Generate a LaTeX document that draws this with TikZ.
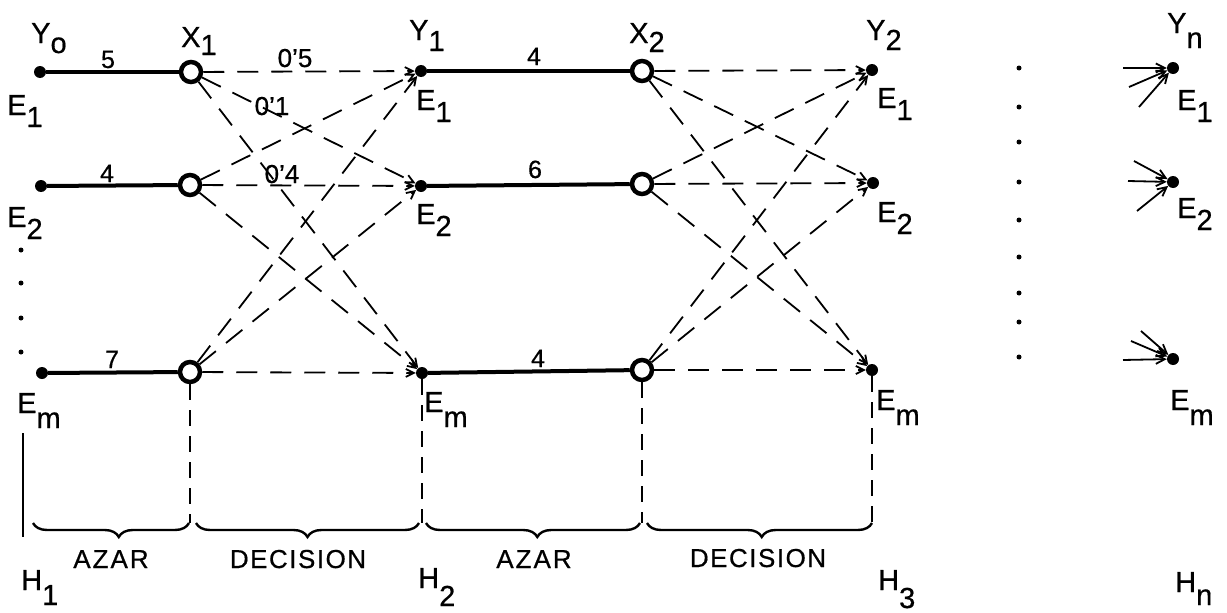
\documentclass[tikz,border=0pt]{standalone}
\usepackage{fontspec}
\setmainfont{Liberation Sans}[FakeBold=0.6]
\usetikzlibrary{arrows.meta,decorations.pathreplacing}
\newcommand{\subl}[3][-11pt]{#2\raisebox{#1}{#3}}
\begin{document}
\begin{tikzpicture}[x=1pt,y=-1pt,
  font=\fontsize{29}{31}\selectfont,
  dot/.style={circle,fill,inner sep=0pt,minimum size=12pt},
  ring/.style={circle,draw,line width=4.5pt,inner sep=0pt,minimum size=20pt},
  solidedge/.style={line width=4pt},
  dashedge/.style={line width=1.8pt,dash pattern=on 21pt off 13pt,-{Straight Barb[length=8pt,width=8pt]}},
  guide/.style={line width=1.8pt,dash pattern=on 16pt off 10pt},
  lbl/.style={inner sep=0pt,anchor=base west},
  wt/.style={inner sep=0pt,anchor=base,font=\fontsize{25}{27}\selectfont},
  pr/.style={inner sep=0pt,anchor=base,font=\fontsize{26}{28}\selectfont},
  phase/.style={inner sep=0pt,anchor=base,font=\fontsize{26}{28}\selectfont},
  stub/.style={line width=1.8pt,-{Straight Barb[length=9pt,width=9pt]}},
  brc/.style={decorate,decoration={brace,mirror,amplitude=14pt,aspect=#1},line width=2.4pt},
  smalldot/.style={circle,fill,inner sep=0pt,minimum size=5pt}
]
\useasboundingbox (0,0) rectangle (1227,613);

% stage nodes
\node[dot] (a1) at (40,72) {};
\node[dot] (a2) at (41,186) {};
\node[dot] (am) at (42,373) {};
\node[ring] (x11) at (191,72) {};
\node[ring] (x12) at (190,185) {};
\node[ring] (x1m) at (190,372) {};
\node[dot] (b1) at (421,71) {};
\node[dot] (b2) at (421,186) {};
\node[dot] (bm) at (422,373) {};
\node[ring] (x21) at (642,71) {};
\node[ring] (x22) at (642,184) {};
\node[ring] (x2m) at (642,370) {};
\node[dot] (c1) at (872,70) {};
\node[dot] (c2) at (873,183) {};
\node[dot] (cm) at (872,370) {};
\node[dot] (n1) at (1173,68) {};
\node[dot] (n2) at (1173,182) {};
\node[dot] (nm) at (1173,359) {};

% solid edges
\draw[solidedge] (a1) -- (x11);
\draw[solidedge] (a2) -- (x12);
\draw[solidedge] (am) -- (x1m);
\draw[solidedge] (b1) -- (x21);
\draw[solidedge] (b2) -- (x22);
\draw[solidedge] (bm) -- (x2m);

% dashed decision edges
\foreach \s in {x11,x12,x1m}{\foreach \t in {b1,b2,bm}{\draw[dashedge] (\s) -- (\t);}}
\foreach \s in {x21,x22,x2m}{\foreach \t in {c1,c2,cm}{\draw[dashedge] (\s) -- (\t);}}

% stubs into Yn
\coordinate (s11) at (1123,68);
\coordinate (s12) at (1129,87);
\coordinate (s13) at (1139,107);
\coordinate (s21) at (1128,181);
\coordinate (s22) at (1134,161);
\coordinate (s23) at (1137,211);
\coordinate (s31) at (1123,360);
\coordinate (s32) at (1131,341);
\coordinate (s33) at (1141,331);
\foreach \c in {s11,s12,s13}{\draw[stub] (\c) -- (n1);}
\foreach \c in {s21,s22,s23}{\draw[stub] (\c) -- (n2);}
\foreach \c in {s31,s32,s33}{\draw[stub] (\c) -- (nm);}

% vertical ellipsis dots
\foreach \yy [count=\i] in {250,283,318,352}{\node[smalldot] (ld\i) at (21,\yy) {};}
\foreach \yy [count=\i] in {68,107,142,182,220,257,293,322,357}{\node[smalldot] (rd\i) at (1019,\yy) {};}

% guides and braces
\coordinate (g0a) at (23,433);
\coordinate (g0b) at (23,537);
\coordinate (g1) at (190,523);
\coordinate (g2) at (422,523);
\coordinate (g3) at (642,523);
\coordinate (g4) at (872,523);
\coordinate (g0) at (31,523);
\draw[line width=1.8pt] (g0a) -- (g0b);
\draw[guide] (x1m) -- (g1);
\draw[guide] (bm) -- (g2);
\draw[guide] (x2m) -- (g3);
\draw[guide] (cm) -- (g4);
\draw[brc=0.55] ([xshift=2pt]g0) -- ([xshift=-1pt]g1);
\draw[brc=0.5] ([xshift=6pt]g1) -- ([xshift=-3pt]g2);
\draw[brc=0.52] ([xshift=4pt]g2) -- ([xshift=-2pt]g3);
\draw[brc=0.51] ([xshift=5pt]g3) -- (g4);

% top labels
\node[lbl] (tY0) at (31,43) {\subl[-10pt]{Y}{o}};
\node[lbl] (tX1) at (181,47) {\subl[-8pt]{X}{1}};
\node[lbl] (tY1) at (409,40) {\subl{Y}{1}};
\node[lbl] (tX2) at (629,43) {\subl[-9pt]{X}{2}};
\node[lbl] (tY2) at (866,40) {\subl[-10pt]{Y}{2}};
\node[lbl] (tYn) at (1167,33) {\subl[-15pt]{Y}{n}};

% state labels
\node[lbl] (e01) at (7,115) {\subl[-12pt]{E}{1}};
\node[lbl] (e02) at (7,227) {\subl[-12pt]{E}{2}};
\node[lbl] (e0m) at (17,413) {\subl[-15pt]{E}{m}};
\node[lbl] (e11) at (416,110) {\subl[-12pt]{E}{1}};
\node[lbl] (e12) at (416,224) {\subl[-12pt]{E}{2}};
\node[lbl] (e1m) at (424,412) {\subl[-15pt]{E}{m}};
\node[lbl] (e21) at (877,108) {\subl[-12pt]{E}{1}};
\node[lbl] (e22) at (877,222) {\subl[-12pt]{E}{2}};
\node[lbl] (e2m) at (876,410) {\subl[-15pt]{E}{m}};
\node[lbl] (en1) at (1177,110) {\subl[-12pt]{E}{1}};
\node[lbl] (en2) at (1177,218) {\subl[-12pt]{E}{2}};
\node[lbl] (enm) at (1170,410) {\subl[-15pt]{E}{m}};

% weights
\node[wt] (w1) at (108,68) {5};
\node[wt] (w2) at (107,182) {4};
\node[wt] (w3) at (112,368) {7};
\node[wt] (w4) at (534,65) {4};
\node[wt] (w5) at (535,178) {6};
\node[wt] (w6) at (538,367) {4};

% probabilities
\node[pr] (p1) at (295,67) {0'5};
\node[pr] (p2) at (272,115) {0'1};
\node[pr] (p3) at (282,183) {0'4};

% phases
\node[phase] (ph1) at (111,568) {A\kern2pt Z\kern2pt A\kern2pt R};
\node[phase] (ph2) at (298,568) {D\kern1.5pt E\kern1.5pt C\kern1.5pt I\kern1.5pt S\kern1.5pt I\kern1.5pt O\kern1.5pt N};
\node[phase] (ph3) at (534,568) {A\kern2pt Z\kern2pt A\kern2pt R};
\node[phase] (ph4) at (758,567) {D\kern1.5pt E\kern1.5pt C\kern1.5pt I\kern1.5pt S\kern1.5pt I\kern1.5pt O\kern1.5pt N};

% horizons
\node[lbl] (h1) at (21,590) {\subl[-15pt]{H}{1}};
\node[lbl] (h2) at (418,588) {\subl[-18pt]{H}{2}};
\node[lbl] (h3) at (878,590) {\subl[-18pt]{H}{3}};
\node[lbl] (hn) at (1175,592) {\subl[-13pt]{H}{n}};
\end{tikzpicture}
\end{document}
